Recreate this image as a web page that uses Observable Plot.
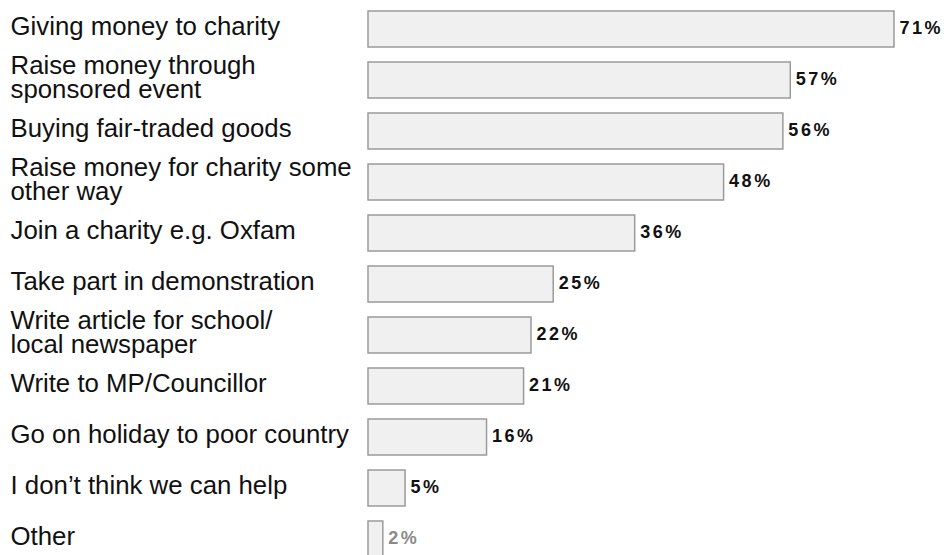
<!DOCTYPE html>
<html>
<head>
<meta charset="utf-8">
<script src="https://cdn.jsdelivr.net/npm/d3@7"></script>
<script src="https://cdn.jsdelivr.net/npm/@observablehq/plot@0.6"></script>
<style>
  html, body { margin: 0; padding: 0; background: #fff; }
  #chart svg { display: block; font-family: Arial, "Liberation Sans", sans-serif; }
  #chart g[font-weight="bold"] text { letter-spacing: 2.5px; }
</style>
</head>
<body>
<div id="chart"></div>
<script>
const categories = [
  "Giving money to charity",
  "Raise money through\nsponsored event",
  "Buying fair-traded goods",
  "Raise money for charity some\nother way",
  "Join a charity e.g. Oxfam",
  "Take part in demonstration",
  "Write article for school/\nlocal newspaper",
  "Write to MP/Councillor",
  "Go on holiday to poor country",
  "I don\u2019t think we can help",
  "Other"
];
const values = [71, 57, 56, 48, 36, 25, 22, 21, 16, 5, 2];
const valueLabels = ["71%", "57%", "56%", "48%", "36%", "25%", "22%", "21%", "16%", "5%", "2%"];
const labelColors = ["#111", "#111", "#111", "#111", "#111", "#111", "#111", "#111", "#111", "#111", "#8a8a8a"];

const data = categories.map((c, i) => ({category: c, value: values[i], label: valueLabels[i], color: labelColors[i]}));

const W = 946, H = 555;
const mLeft = 368, mRight = 52;
const labelX = 10;
const bandStep = 51.2, padIn = 0.3, firstTop = 10;

const chart = Plot.plot({
  width: W,
  height: H,
  marginLeft: mLeft,
  marginRight: mRight,
  marginTop: 0,
  marginBottom: 0,
  x: {domain: [0, 71], axis: null},
  y: {
    domain: categories,
    range: [firstTop, firstTop + bandStep * (categories.length - padIn)],
    paddingInner: padIn,
    paddingOuter: 0,
    axis: null
  },
  marks: [
    Plot.barX(data, {
      y: "category",
      x: "value",
      fill: "#f0f0f0",
      stroke: "#9a9a9a",
      strokeWidth: 1.5
    }),
    Plot.text(data, {
      y: "category",
      text: "category",
      frameAnchor: "left",
      textAnchor: "start",
      dx: labelX - mLeft,
      dy: -2,
      fontSize: 25.8,
      lineHeight: 0.9,
      fill: "#111"
    }),
    Plot.text(data, {
      y: "category",
      x: "value",
      text: "label",
      textAnchor: "start",
      dx: 5,
      dy: -1,
      fontSize: 18,
      fontWeight: "bold",
      fill: "color"
    })
  ]
});
document.getElementById("chart").append(chart);
</script>
</body>
</html>
